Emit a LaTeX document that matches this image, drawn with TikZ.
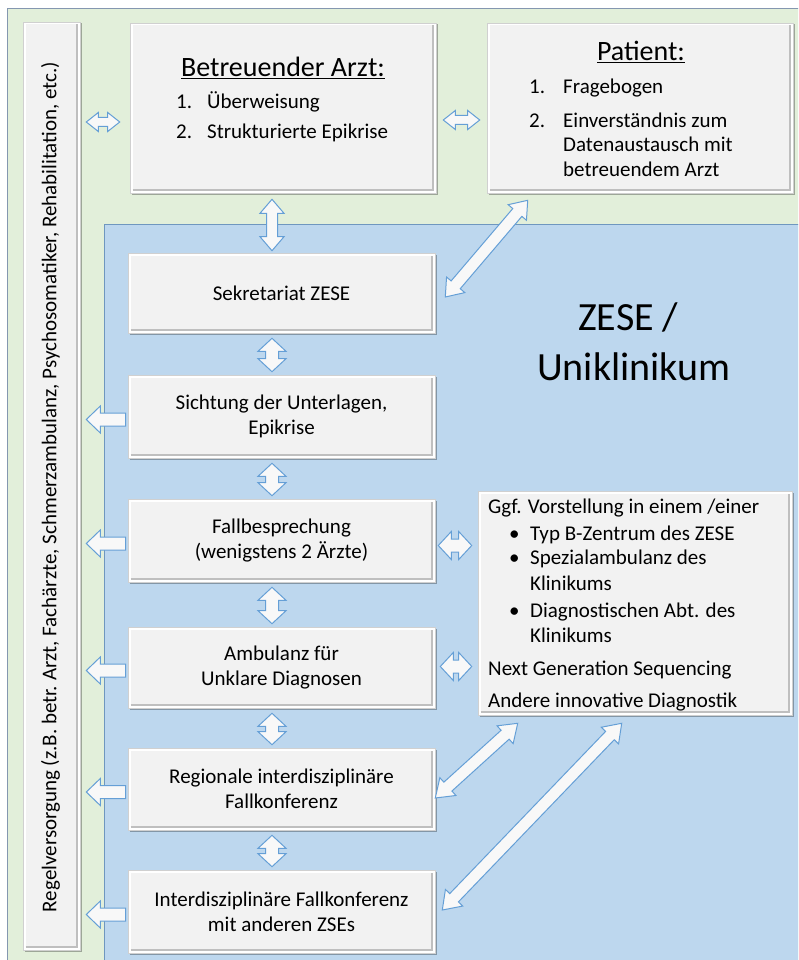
\documentclass[tikz,border=0pt]{standalone}
\usepackage{fontspec}
\setmainfont{Carlito}
\usetikzlibrary{calc,shadows}
\definecolor{greenbg}{HTML}{E2EFDA}
\definecolor{greenline}{HTML}{8497B0}
\definecolor{bluebg}{HTML}{BDD7EE}
\definecolor{blueline}{HTML}{6F97BF}
\definecolor{boxgray}{HTML}{F2F2F2}
\definecolor{boxedge}{HTML}{BFBFBF}
\definecolor{boxline}{HTML}{D0D0D0}
\definecolor{arrowline}{HTML}{659FD6}
\definecolor{arrowfill}{HTML}{F8F8F8}
% double block arrow: A, B, shaft half width, head half width, head length
\newcommand{\blockdbl}[5]{%
 \draw[blockarrow] (#1) -- ($(#1)!#5!(#2)!#4!90:(#2)$) -- ($(#1)!#5!(#2)!#3!90:(#2)$)
  -- ($(#2)!#5!(#1)!#3!-90:(#1)$) -- ($(#2)!#5!(#1)!#4!-90:(#1)$) -- (#2)
  -- ($(#2)!#5!(#1)!#4!90:(#1)$) -- ($(#2)!#5!(#1)!#3!90:(#1)$)
  -- ($(#1)!#5!(#2)!#3!-90:(#2)$) -- ($(#1)!#5!(#2)!#4!-90:(#2)$) -- cycle;}
% single block arrow: tail A, tip B
\newcommand{\blocksgl}[5]{%
 \draw[blockarrow] ($(#1)!#3!90:(#2)$) -- ($(#2)!#5!(#1)!#3!-90:(#1)$)
  -- ($(#2)!#5!(#1)!#4!-90:(#1)$) -- (#2) -- ($(#2)!#5!(#1)!#4!90:(#1)$)
  -- ($(#2)!#5!(#1)!#3!90:(#1)$) -- ($(#1)!#3!-90:(#2)$) -- cycle;}
\begin{document}
\begin{tikzpicture}[x=1pt,y=-1pt,
  blockarrow/.style={draw=arrowline,fill=arrowfill,line width=1pt,line join=miter},
  box/.style={draw=boxline,line width=0.6pt,fill=white,inner sep=0pt,align=center,
    font=\fontsize{21}{25}\selectfont,
    drop shadow={shadow xshift=1.5pt,shadow yshift=-1.5pt,opacity=0.3,fill=black},
    path picture={\fill[boxgray] ([shift={(2.5pt,2.5pt)}]path picture bounding box.south west) rectangle ([shift={(-2.5pt,-2.5pt)}]path picture bounding box.north east);
      \draw[boxedge,line width=1.2pt] ([shift={(2.5pt,3pt)}]path picture bounding box.south west) -- ([shift={(-3pt,3pt)}]path picture bounding box.south east) -- ([shift={(-3pt,-2.5pt)}]path picture bounding box.north east);}},
  txt/.style={font=\fontsize{21}{25}\selectfont,inner sep=0pt},
  ttl/.style={font=\fontsize{28}{32}\selectfont,inner sep=0pt,anchor=base},
  big/.style={font=\fontsize{40}{48}\selectfont,inner sep=0pt,anchor=base west}]
\useasboundingbox (0,0) rectangle (798,960);
\clip (0,0) rectangle (798,960);
\fill[white] (0,0) rectangle (798,960);
% regions
\draw[fill=greenbg,draw=greenline,line width=0.8pt] (7,8) rectangle (810,970);
\fill[bluebg] (104,224) rectangle (810,970);
\draw[blueline,line width=0.8pt] (810,224) -- (104,224) -- (104,970);
% boxes
\node[box,minimum width=57pt,minimum height=928pt] (bar) at (51.5,486) {};
\node[txt,rotate=90] (barT) at ($(bar.center)+(-1,1)$) {Regelversorgung (z.B.\ betr.\ Arzt, Fachärzte, Schmerzambulanz, Psychosomatiker, Rehabilitation, etc.)};
\node[box,minimum width=306pt,minimum height=170pt] (arzt) at (283,108) {};
\node[box,minimum width=306pt,minimum height=170pt] (patient) at (640,108) {};
\node[box,minimum width=307pt,minimum height=80pt] (sek) at (281.5,293) {Sekretariat ZESE};
\node[box,minimum width=307pt,minimum height=83pt] (sicht) at (281.5,416.5) {Sichtung der Unterlagen,\\Epikrise};
\node[box,minimum width=307pt,minimum height=83pt] (fall) at (281.5,540.5) {Fallbesprechung\\(wenigstens 2 Ärzte)};
\node[box,minimum width=307pt,minimum height=81pt] (amb) at (281.5,667.5) {Ambulanz für\\Unklare Diagnosen};
\node[box,minimum width=307pt,minimum height=82pt] (reg) at (281.5,789) {Regionale interdisziplinäre\\Fallkonferenz};
\node[box,minimum width=307pt,minimum height=83pt] (inter) at (281.5,911.5) {Interdisziplinäre Fallkonferenz\\mit anderen ZSEs};
\node[box,minimum width=314pt,minimum height=224pt] (ggf) at (635,603) {};
% texts in Arzt box
\node[ttl] (arztT) at (283,77) {\underline{Betreuender Arzt:}};
\node[txt,anchor=base west] (arztN1) at (176,109) {1.};
\node[txt,anchor=base west] (arzt1) at (207,109) {Überweisung};
\node[txt,anchor=base west] (arztN2) at (176,139) {2.};
\node[txt,anchor=base west] (arzt2) at (207,139) {Strukturierte Epikrise};
% texts in Patient box
\node[ttl] (patT) at (641,61) {\underline{Patient:}};
\node[txt,anchor=base west] (patN1) at (529,94) {1.};
\node[txt,anchor=base west] (pat1) at (563,94) {Fragebogen};
\node[txt,anchor=base west] (patN2) at (529,128) {2.};
\node[txt,anchor=base west] (pat2) at (563,128) {Einverständnis zum};
\node[txt,anchor=base west] (pat3) at (563,152) {Datenaustausch mit};
\node[txt,anchor=base west] (pat4) at (563,177) {betreuendem Arzt};
% texts in Ggf box
\node[txt,anchor=base west] (g1) at (488,513) {Ggf. Vorstellung in einem /einer};
\node[txt,anchor=base west] (gb1) at (509,540) {\textbullet};
\node[txt,anchor=base west] (g2) at (530,540) {Typ B-Zentrum des ZESE};
\node[txt,anchor=base west] (gb2) at (509,564) {\textbullet};
\node[txt,anchor=base west] (g3) at (530,564) {Spezialambulanz des};
\node[txt,anchor=base west] (g4) at (530,590) {Klinikums};
\node[txt,anchor=base west] (gb3) at (509,617) {\textbullet};
\node[txt,anchor=base west] (g5) at (530,617) {Diagnostischen Abt. des};
\node[txt,anchor=base west] (g6) at (530,642) {Klinikums};
\node[txt,anchor=base west] (g7) at (488,675) {Next Generation Sequencing};
\node[txt,anchor=base west] (g8) at (488,707) {Andere innovative Diagnostik};
% ZESE label
\node[big] (zese1) at (578,330) {ZESE /};
\node[big] (zese2) at (537,380) {Uniklinikum};
% arrows
\coordinate (vx) at (272,0);
\coordinate (t1a) at ($(bar.east |- arzt.west)+(6,14)$);
\coordinate (t1b) at ($(arzt.west)+(-10,14)$);
\blockdbl{t1a}{t1b}{4.5pt}{9.5pt}{12pt}
\coordinate (t2a) at ($(arzt.east)+(7,12)$);
\coordinate (t2b) at ($(patient.west)+(-7,12)$);
\blockdbl{t2a}{t2b}{4.5pt}{9.5pt}{12pt}
\coordinate (v0a) at ($(arzt.south -| vx)+(0,6)$);
\coordinate (v0b) at ($(sek.north -| vx)+(0,-2)$);
\blockdbl{v0a}{v0b}{5.5pt}{12pt}{14pt}
\foreach \a/\b in {sek/sicht,sicht/fall,fall/amb,amb/reg,reg/inter}{
  \coordinate (va) at ($(\a.south -| vx)+(0,5)$);
  \coordinate (vb) at ($(\b.north -| vx)+(0,-3)$);
  \blockdbl{va}{vb}{6.5pt}{14pt}{13pt}
}
\foreach \b in {sicht,fall,amb,reg,inter}{
  \coordinate (la) at ($(\b.west)+(-2,3)$);
  \coordinate (lb) at ($(bar.east |- \b.west)+(6,3)$);
  \blocksgl{la}{lb}{6.5pt}{13.5pt}{14pt}
}
\coordinate (r1a) at ($(fall.east)+(3,5)$);
\coordinate (r1b) at ($(ggf.west |- fall.east)+(-6,5)$);
\blockdbl{r1a}{r1b}{6.5pt}{14pt}{13pt}
\coordinate (r2a) at ($(amb.east)+(5,-1)$);
\coordinate (r2b) at ($(ggf.west |- amb.east)+(-6,-1)$);
\blockdbl{r2a}{r2b}{6.5pt}{14pt}{13pt}
\coordinate (d1a) at ($(sek.east)+(10,4)$);
\coordinate (d1b) at ($(patient.south west)+(41,7)$);
\blockdbl{d1a}{d1b}{6pt}{12pt}{16pt}
\coordinate (d2a) at ($(reg.east)+(0,9)$);
\coordinate (d2b) at ($(ggf.south west)+(40,8)$);
\blockdbl{d2a}{d2b}{6pt}{12pt}{17pt}
\coordinate (d3a) at ($(inter.east)+(7,-1.5)$);
\coordinate (d3b) at ($(ggf.south west)+(144,8)$);
\blockdbl{d3a}{d3b}{6pt}{12pt}{17pt}
\end{tikzpicture}
\end{document}
